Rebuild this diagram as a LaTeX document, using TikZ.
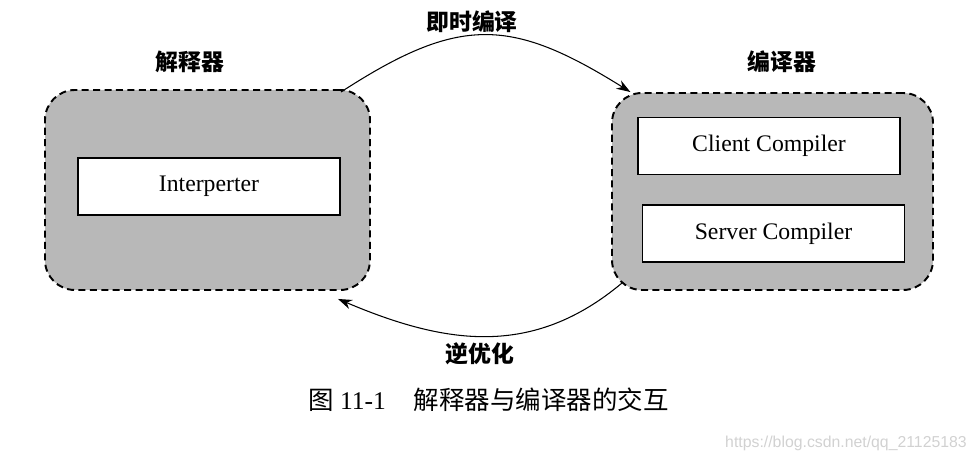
\documentclass[tikz,border=0pt]{standalone}
\usepackage{fontspec}
\setmainfont{Liberation Serif}
\newfontfamily\cjk{Noto Sans CJK SC}
\newfontfamily\wmfont{Liberation Sans}
\usetikzlibrary{arrows.meta}

\begin{document}
\begin{tikzpicture}[
    group/.style={draw,dash pattern=on 4pt off 2.5pt,line width=1.1pt,fill=black!28,rounded corners=0.6cm,inner sep=0pt},
    unit/.style={draw,line width=1.1pt,fill=white,minimum width=5.24cm,minimum height=1.14cm,inner sep=0pt,font=\fontsize{13.5}{16}\selectfont},
    title/.style={font=\cjk\bfseries\fontsize{13}{15}\selectfont},
    flow/.style={-{Stealth[length=8pt,width=5.5pt]},semithick}
]
    \useasboundingbox (0,0) rectangle (19.54,9.24);

    \node[group,minimum width=6.5cm,minimum height=4cm] (interpgroup) at (4.15,5.44) {};
    \node[group,minimum width=6.42cm,minimum height=3.94cm] (compgroup) at (15.45,5.41) {};

    \node[unit] (interp) at (4.18,5.51) {Interperter};
    \node[unit] (client) at (15.38,6.32) {Client Compiler};
    \node[unit] (server) at (15.47,4.57) {Server Compiler};

    \node[title] (interptitle) at (3.8,8.0) {解释器};
    \node[title] (comptitle) at (15.64,8.0) {编译器};
    \node[title] (jit) at (9.44,8.8) {即时编译};
    \node[title] (deopt) at (9.6,2.16) {逆优化};

    \draw[flow] ([shift={(-0.6,-0.06)}]interpgroup.north east) to[out=33,in=148,looseness=1.25] (compgroup.145);
    \draw[flow] ([shift={(0.22,0.16)}]compgroup.south west) to[out=220,in=-23,looseness=1.05] ([shift={(-0.66,-0.16)}]interpgroup.south east);

    \node[font=\fontsize{14.5}{17}\selectfont] (caption) at (9.77,1.24) {{\cjk 图} 11-1\hspace{1.1em}{\cjk 解释器与编译器的交互}};
    \node[font=\wmfont\fontsize{9}{11}\selectfont,text=black!18] (watermark) at (16.92,0.38) {https://blog.csdn.net/qq\_21125183};
\end{tikzpicture}
\end{document}
